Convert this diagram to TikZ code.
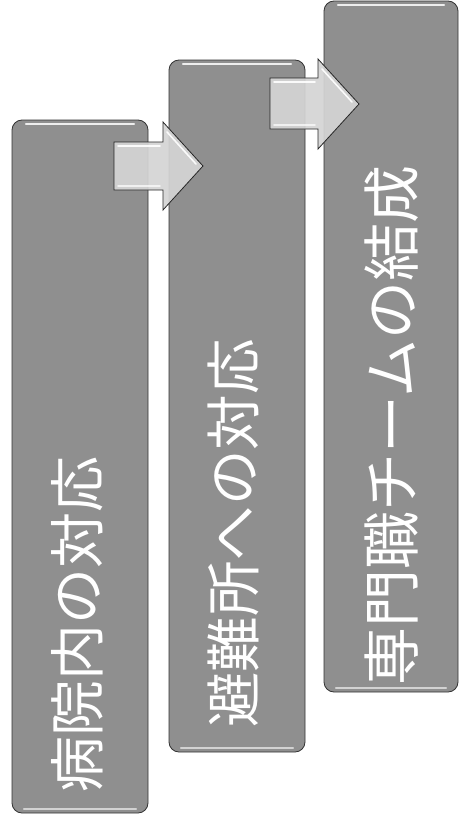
\documentclass[tikz,border=0pt]{standalone}
\usepackage{fontspec}
\newfontfamily\jpfont{Noto Sans CJK JP}
\begin{document}
\begin{tikzpicture}[x=1pt,y=-1pt,
  stagebox/.style={draw=black!80,line width=0.8pt,fill=black!44,rounded corners=10pt},
  gloss/.style={draw=white,line width=2.2pt,line cap=round,opacity=0.85},
  arrowshape/.style={draw=black!85,line width=0.8pt,fill=black!17,fill opacity=0.93},
  shine/.style={draw=white,line width=1.6pt,line cap=round,opacity=0.9},
  stagetext/.style={text=white,rotate=90,anchor=west,inner sep=0pt}]
\useasboundingbox (0,0) rectangle (459,819);
% boxes
\foreach \n/\l/\t/\r/\b in {one/12/120/148/813, two/169/60/305/752, three/324/1/458/692}{
  \path[stagebox] (\l,\t) rectangle (\r,\b);
  \coordinate (\n-tl) at (\l,\t);
  \draw[gloss] (\l+14,\t+4) -- (\r-14,\t+4);
  \draw[gloss,opacity=0.6] (\l+12,\b-4) -- (\r-12,\b-4);
}
% text
\node[stagetext,font=\jpfont\fontsize{56}{60}\selectfont] (t1) at (77,793) {病院内の対応};
\node[stagetext,font=\jpfont\fontsize{55.5}{60}\selectfont] (t2) at (233,728) {避難所への対応};
\node[stagetext,font=\jpfont\fontsize{58}{62}\selectfont] (t3) at (392,686) {専門職チームの結成};
% arrows
\path[arrowshape] (114,142) -- (163,142) -- (163,122) -- (203,166) -- (163,210) -- (163,190) -- (114,190) -- cycle;
\draw[shine] (118,146) -- (160,146);
\draw[shine,opacity=0.7] (118,186) -- (160,186);
\draw[shine] (167,132) -- (196,164);
\path[arrowshape] (270,78) -- (318,78) -- (318,59) -- (359,104) -- (318,149) -- (318,129) -- (270,129) -- cycle;
\draw[shine] (274,82) -- (315,82);
\draw[shine,opacity=0.7] (274,125) -- (315,125);
\draw[shine] (322,69) -- (352,102);
\end{tikzpicture}
\end{document}
